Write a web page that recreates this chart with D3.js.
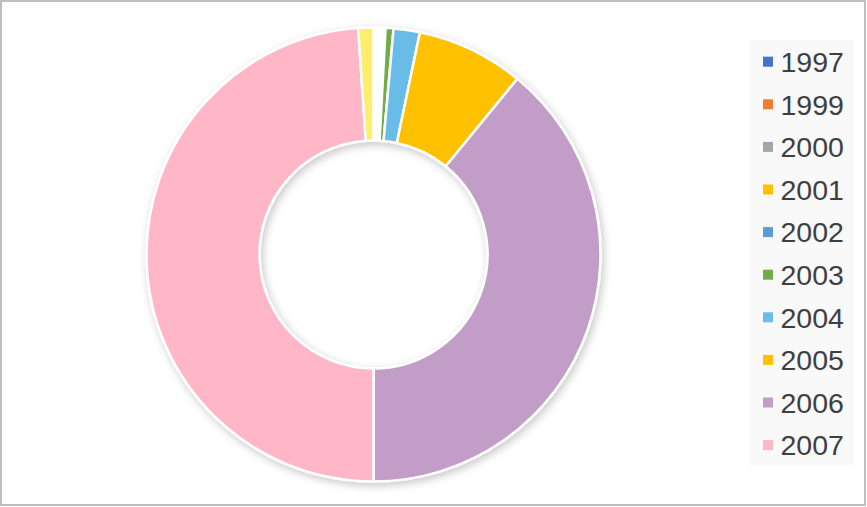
<!DOCTYPE html>
<html>
<head>
<meta charset="utf-8">
<script src="https://cdn.jsdelivr.net/npm/d3@7"></script>
<style>
  body { margin: 0; background: #fff; }
  svg { display: block; font-family: "Liberation Sans", Arial, sans-serif; }
</style>
</head>
<body>
<div id="plot"></div>
<script>
// share of each year (percent)
var years = ["1997", "1999", "2000", "2001", "2002", "2003", "2004", "2005", "2006", "2007", "2008"];
var shares = [0.17, 0.17, 0.17, 0.17, 0.17, 0.56, 1.87, 7.64, 39.08, 48.92, 1.08];
var colors = ["#4472C4", "#ED7D31", "#A5A5A5", "#FFC000", "#5B9BD5", "#70AD47",
              "#6BBCE8", "#FFC000", "#C29DC8", "#FFB6C6", "#FFEE6E"];
// the legend only has room for the first ten years
var legendYears = years.slice(0, 10);

var width = 867, height = 507;
var cx = 373.5, cy = 254.5;
var outerR = 227, innerR = 114;

var svg = d3.select("#plot")
  .append("svg")
  .attr("width", width)
  .attr("height", height);

// soft shadow under the ring
var defs = svg.append("defs");
var filter = defs.append("filter")
  .attr("id", "shadow")
  .attr("x", "-20%").attr("y", "-20%")
  .attr("width", "140%").attr("height", "140%");
filter.append("feDropShadow")
  .attr("dx", 2)
  .attr("dy", 3)
  .attr("stdDeviation", 4)
  .attr("flood-color", "#000")
  .attr("flood-opacity", 0.22);

// chart frame
svg.append("rect")
  .attr("x", 1)
  .attr("y", 1)
  .attr("width", width - 3)
  .attr("height", height - 3)
  .attr("fill", "#fff")
  .attr("stroke", "#BFBFBF")
  .attr("stroke-width", 2);

var data = years.map(function(y, i) { return { year: y, value: shares[i], color: colors[i] }; });

var pie = d3.pie()
  .sort(null)
  .value(function(d) { return d.value; });

var arc = d3.arc()
  .innerRadius(innerR)
  .outerRadius(outerR);

var ring = svg.append("g")
  .attr("transform", "translate(" + cx + "," + cy + ")")
  .attr("filter", "url(#shadow)");

ring.selectAll("path")
  .data(pie(data))
  .enter().append("path")
  .attr("d", arc)
  .attr("fill", function(d) { return d.data.color; })
  .attr("stroke", "#fff")
  .attr("stroke-width", 2.5)
  .attr("stroke-linejoin", "miter");

// legend
var legendX = 749, legendY = 40;
var rowH = 42.6;

svg.append("rect")
  .attr("x", legendX)
  .attr("y", legendY)
  .attr("width", 105)
  .attr("height", 425)
  .attr("fill", "#F9F9F9");

var legend = svg.selectAll(".legend")
  .data(legendYears)
  .enter().append("g")
  .attr("class", "legend")
  .attr("transform", function(d, i) { return "translate(" + legendX + "," + (legendY + 21.7 + i * rowH) + ")"; });

legend.append("rect")
  .attr("x", 14)
  .attr("y", -5)
  .attr("width", 10)
  .attr("height", 10)
  .attr("fill", function(d, i) { return colors[i]; });

legend.append("text")
  .attr("x", 31.5)
  .attr("y", 0)
  .attr("dy", "0.36em")
  .attr("font-size", 28.5)
  .attr("fill", "#3F3F3F")
  .text(function(d) { return d; });
</script>
</body>
</html>
